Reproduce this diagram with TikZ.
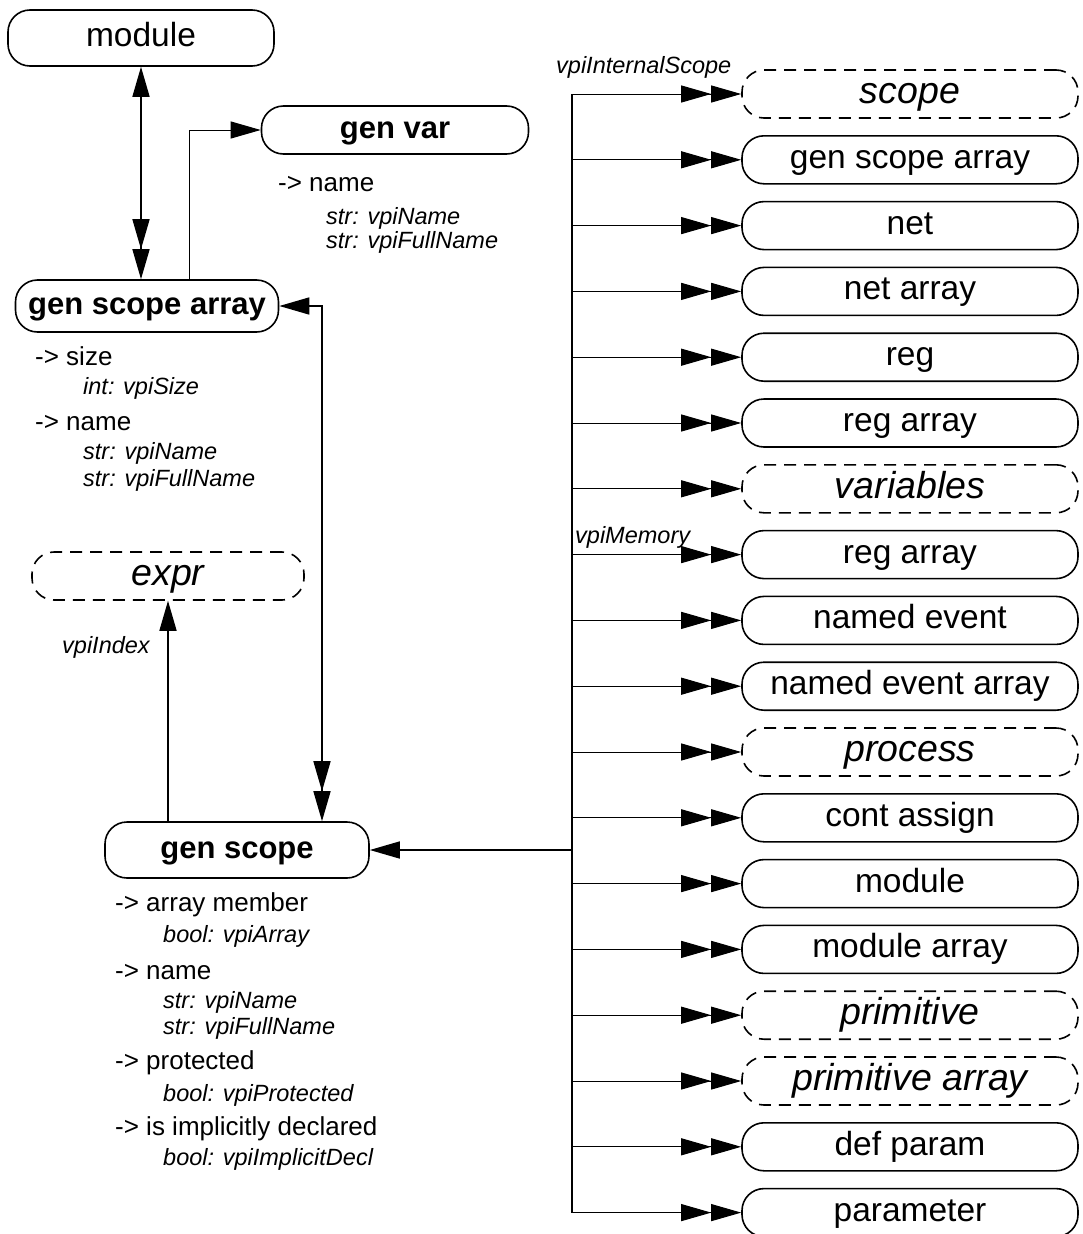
\documentclass[tikz,border=0pt]{standalone}
\usepackage{fontspec}
\setmainfont{Liberation Sans}
\usetikzlibrary{positioning,arrows.meta}

\tikzset{
  obj/.style={draw, line width=1.6pt, rounded corners=22pt, inner sep=0pt, minimum height=50pt,
    text height=24pt, text depth=7pt, font=\fontsize{33.5}{38}\selectfont},
  objb/.style={obj, text height=22.5pt, text depth=6.5pt, font=\fontsize{31}{36}\selectfont\bfseries},
  grp/.style={obj, dash pattern=on 12pt off 8pt, text height=27pt, text depth=8pt, font=\fontsize{37.5}{42}\selectfont\itshape},
  prop/.style={anchor=west, inner sep=0pt, font=\fontsize{26}{30}\selectfont},
  propv/.style={prop, font=\fontsize{23.5}{27}\selectfont\itshape},
  rel/.style={anchor=west, inner sep=0pt, font=\fontsize{23.5}{27}\selectfont\itshape},
  one/.style={-{Triangle[length=30pt,width=17pt]}},
  two/.style={-{Triangle[length=30pt,width=17pt]Triangle[length=30pt,width=17pt]}},
}

\begin{document}
\begin{tikzpicture}[x=1pt,y=-1pt]
  \useasboundingbox (0,0) rectangle (1082,1234);

  % left side
  \node[obj, minimum width=266pt, minimum height=56pt] (mod) at (141,38) {module};
  \node[objb, minimum width=267pt, minimum height=48pt] (gv) at (395,130) {gen var};
  \node[objb, minimum width=263pt, minimum height=52pt] (gsa) at (147,306) {gen scope array};
  \node[grp, minimum width=272pt, minimum height=48pt] (ex) at (168,576) {expr};
  \node[objb, minimum width=264pt, minimum height=56pt] (gs) at (237,850) {gen scope};

  \node[prop] (gvn) at (278,184) {-> name};
  \node[propv] (gvn1) at (326,218) {str: vpiName};
  \node[propv] (gvn2) at (326,242) {str: vpiFullName};

  \node[prop] (gsas) at (35,356) {-> size};
  \node[propv] (gsas1) at (83,388) {int: vpiSize};
  \node[prop] (gsan) at (35,423) {-> name};
  \node[propv] (gsan1) at (83,453) {str: vpiName};
  \node[propv] (gsan2) at (83,480) {str: vpiFullName};

  \node[prop] (gsm) at (115,905) {-> array member};
  \node[propv] (gsm1) at (163,936) {bool: vpiArray};
  \node[prop] (gsn) at (115,972) {-> name};
  \node[propv] (gsn1) at (163,1002) {str: vpiName};
  \node[propv] (gsn2) at (163,1028) {str: vpiFullName};
  \node[prop] (gsp) at (115,1063) {-> protected};
  \node[propv] (gsp1) at (163,1095) {bool: vpiProtected};
  \node[prop] (gsi) at (115,1129) {-> is implicitly declared};
  \node[propv] (gsi1) at (163,1159) {bool: vpiImplicitDecl};

  \draw[{Triangle[length=30pt,width=17pt]}-{Triangle[length=30pt,width=17pt]Triangle[length=30pt,width=17pt]}, line width=1.6pt]
    (mod.south) -- (mod.south |- gsa.north);
  \draw[one, line width=1pt] ([xshift=42pt]gsa.north) |- (gv.west);
  \draw[{Triangle[length=30pt,width=17pt]}-{Triangle[length=30pt,width=17pt]Triangle[length=30pt,width=17pt]}, line width=1.6pt]
    (gsa.east) -| ([xshift=85pt]gs.north);
  \draw[one, line width=1.6pt] (gs.north -| ex.south) -- (ex.south);
  \node[rel] (lidx) at (62,647) {vpiIndex};

  % right column
  \foreach \t/\s [count=\i from 0] in {scope/grp, gen scope array/obj, net/obj, net array/obj, reg/obj, reg array/obj,
      variables/grp, reg array/obj, named event/obj, named event array/obj, process/grp, cont assign/obj,
      module/obj, module array/obj, primitive/grp, primitive array/grp, def param/obj, parameter/obj}{
    \node[\s, minimum width=336pt, minimum height=48pt] (r\i) at (910,{94+65.8*\i}) {\t};
    \coordinate (t\i) at (572,{94+65.8*\i});
    \draw[two, line width=1pt] (t\i) -- (r\i.west);
  }
  \draw[line width=1.6pt] (t0) -- (t17);
  \coordinate (tg) at (572,850);
  \draw[one, line width=1.6pt] (tg) -- (gs.east);

  \node[rel] (lvis) at (556,67) {vpiInternalScope};
  \node[rel] (lmem) at (575,537) {vpiMemory};
\end{tikzpicture}
\end{document}
